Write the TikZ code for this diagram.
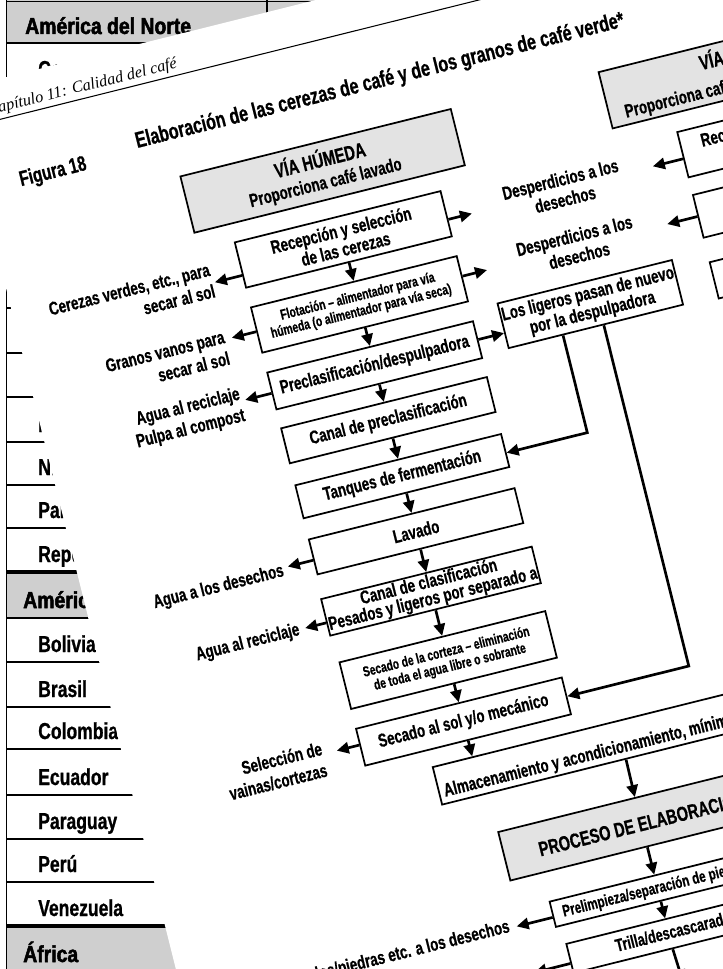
\documentclass[tikz,border=0pt]{standalone}
\usepackage{fontspec}
\setmainfont{Liberation Sans}[FakeStretch=0.72,BoldFeatures={FakeBold=0.7}]
\newfontfamily\tabfont{Liberation Sans}[FakeStretch=0.76,BoldFeatures={FakeBold=0.9}]
\newfontfamily\tabhead{Liberation Sans}[FakeStretch=0.84,BoldFeatures={FakeBold=2.2}]
\newfontfamily\capfont{Liberation Serif}
\usetikzlibrary{arrows.meta}
\newcommand\bigtxt{\fontsize{15.3}{17}\selectfont}
\begin{document}
\begin{tikzpicture}[x=0.75pt,y=-0.75pt,
 box/.style={draw,line width=1.3pt,fill=white,align=center,inner sep=1pt,font=\fontsize{14}{14.5}\selectfont\bfseries},
 gbox/.style={box,fill=gray!22},
 wbox/.style={box,minimum width=159pt},
 smalltxt/.style={font=\fontsize{10.8}{11.5}\selectfont\bfseries},
 plain/.style={inner sep=0pt,align=center,font=\fontsize{14}{14.5}\selectfont\bfseries},
 arr/.style={line width=2pt,-{Triangle[length=9pt,width=8.5pt]}},
 lab/.style={align=right,anchor=east,inner sep=0pt,font=\fontsize{14}{16.5}\selectfont\bfseries},
 clab/.style={align=center,inner sep=0pt,font=\fontsize{14}{15.5}\selectfont\bfseries},
 rowline/.style={line width=1pt},
 thickrow/.style={line width=2.4pt},
 tabtxt/.style={anchor=base west,inner sep=0pt,font=\tabfont\fontsize{17.3}{20}\selectfont\bfseries},
 tabhd/.style={anchor=base west,inner sep=0pt,font=\tabhead\fontsize{17.3}{20}\selectfont\bfseries},
]
\useasboundingbox (0,0) rectangle (723,969);
\clip (0,0) rectangle (723,969);
% ---------- underlying table page ----------
\fill[gray!38] (6,-5) rectangle (400,43);
\fill[gray!38] (6,572) rectangle (400,618);
\fill[gray!38] (6,926) rectangle (400,975);
\draw[rowline] (6.5,-5) -- (6.5,975);
\draw[rowline] (267,-5) -- (267,43);
\draw[rowline] (6,1.5) -- (400,1.5);
\foreach \yy in {43,87,131,175,219,263,308,353,397,442,485,528,618,662,707,749,795,839,882}
  \draw[rowline] (6,\yy) -- (400,\yy);
\draw[thickrow] (6,572) -- (400,572);
\draw[thickrow] (6,926) -- (400,926);
\node[tabhd] (hN) at (25,34) {América del Norte};
\node[tabtxt] (c1) at (38,77) {Costa Rica};
\node[tabtxt] (c2) at (38,121) {Cuba};
\node[tabtxt] (c3) at (38,165) {El Salvador};
\node[tabtxt] (c4) at (38,209) {Estados Unidos};
\node[tabtxt] (c5) at (38,253) {Guatemala};
\node[tabtxt] (c6) at (38,298) {Haití};
\node[tabtxt] (c7) at (38,343) {Honduras};
\node[tabtxt] (c8) at (38,387) {Jamaica};
\node[tabtxt] (c9) at (38,432) {México};
\node[tabtxt] (c10) at (38,475) {Nicaragua};
\node[tabtxt] (c11) at (38,518) {Panamá};
\node[tabtxt] (c12) at (38,562) {República Dominicana};
\node[tabhd] (hS) at (23,608) {América del Sur};
\node[tabtxt] (s1) at (38,652) {Bolivia};
\node[tabtxt] (s2) at (38,697) {Brasil};
\node[tabtxt] (s3) at (38,739) {Colombia};
\node[tabtxt] (s4) at (38,785) {Ecuador};
\node[tabtxt] (s5) at (38,829) {Paraguay};
\node[tabtxt] (s6) at (38,872) {Perú};
\node[tabtxt] (s7) at (38,916) {Venezuela};
\node[tabhd] (hA) at (23,962) {África};
% ---------- rotated diagram page ----------
\begin{scope}[rotate around={14:(360,480)}, transform shape]
\fill[white] (63,3.6) rectangle (1400,1400);
\draw[line width=0.8pt] (63,43) -- (1400,43);
\node[anchor=base east,inner sep=0pt,font=\capfont\itshape\fontsize{12.2}{14}\selectfont] (cap) at (283,36) {Capítulo 11: Calidad del café};
\node[anchor=base east,inner sep=0pt,font=\fontsize{16}{18}\selectfont\bfseries] (fig) at (171,113) {Figura 18};
\node[anchor=base west,inner sep=0pt,font=\fontsize{16.8}{19}\selectfont\bfseries] (title) at (224,104) {Elaboración de las cerezas de café y de los granos de café verde*};
% wet column
\node[gbox,minimum width=209pt,minimum height=43.5pt] (hum) at (398.5,171) {{\bigtxt VÍA HÚMEDA}\\[2pt]Proporciona café lavado};
\node[wbox,minimum height=35pt] (rec) at (402,242.5) {Recepción y selección\\de las cerezas};
\node[wbox,minimum height=35pt,smalltxt] (flot) at (402,309.5) {Flotación – alimentador para vía\\húmeda (o alimentador para vía seca)};
\node[wbox,minimum height=28.5pt] (prec) at (402,372.3) {Preclasificación/despulpadora};
\node[wbox,minimum height=27pt] (cpre) at (402,428.8) {Canal de preclasificación};
\node[wbox,minimum height=25.5pt] (tanq) at (402,486.5) {Tanques de fermentación};
\node[wbox,minimum height=27pt] (lav) at (402,543.3) {Lavado};
\node[wbox,minimum height=27.75pt,font=\fontsize{14}{13}\selectfont\bfseries] (clas) at (402,605) {Canal de clasificación\\Pesados y ligeros por separado a};
\node[wbox,minimum height=36pt,smalltxt] (cort) at (402,676) {Secado de la corteza – eliminación\\de toda el agua libre o sobrante};
\node[wbox,minimum height=28.5pt] (sol) at (402,739.4) {Secado al sol y/o mecánico};
\node[box,minimum width=284pt,minimum height=29pt] (alm) at (550.5,795.5) {};
\node[anchor=base west,inner sep=0pt,font=\fontsize{14}{14.5}\selectfont\bfseries] (almt) at (366,808) {Almacenamiento y acondicionamiento, mínimo};
\node[gbox,minimum width=211.5pt,minimum height=37.5pt,font=\fontsize{15.3}{17}\selectfont\bfseries] (proc) at (550,880) {PROCESO DE ELABORACIÓN};
\node[box,minimum width=162pt,minimum height=19.5pt] (prel) at (550,948) {};
\node[anchor=base west,inner sep=0pt,font=\fontsize{12.2}{13}\selectfont\bfseries] (prelt) at (452,953) {Prelimpieza/separación de piedras};
\node[box,minimum width=153pt,minimum height=22.5pt] (tri) at (550,995) {};
\node[anchor=base west,inner sep=0pt,font=\fontsize{13.3}{14}\selectfont\bfseries] (trit) at (495,1000) {Trilla/descascarado};
% dry column
\node[gbox,minimum width=209pt,minimum height=43.5pt] (seca) at (829.5,171) {};
\node[plain,anchor=base west,font=\bigtxt\bfseries] (secat1) at (790,165) {VÍA SECA};
\node[plain,anchor=base west] (secat2) at (706,193) {Proporciona café natural};
\node[wbox,minimum height=35pt] (drec) at (858,242.5) {};
\node[plain] (drect) at (845,242.5) {Recepción y selección\\de las cerezas};
\node[wbox,minimum height=33pt] (d2) at (858,306) {};
\node[wbox,minimum height=28pt] (d3) at (858,372) {};
\node[box,minimum width=130.5pt,minimum height=34.5pt] (lig) at (626,365) {Los ligeros pasan de nuevo\\por la despulpadora};
% labels
\node[lab] (labA) at (265,250) {Cerezas verdes, etc., para\\secar al sol};
\node[lab] (labB) at (263,319) {Granos vanos para\\secar al sol};
\node[lab] (labC) at (264,379) {Agua al reciclaje\\Pulpa al compost};
\node[lab] (labD) at (264,550) {Agua a los desechos};
\node[lab] (labE) at (265,611) {Agua al reciclaje};
\node[lab] (labF) at (258,742) {Selección de\\vainas/cortezas};
\node[lab] (labG) at (397,950) {Palos/piedras etc. a los desechos};
\node[clab] (labH) at (627,247) {Desperdicios a los\\desechos};
\node[clab] (labI) at (627,305) {Desperdicios a los\\desechos};
% arrow end points
\coordinate (tA) at (267,253);
\coordinate (tB) at (270,311);
\coordinate (tC) at (268,374.5);
\coordinate (tD) at (269,546.5);
\coordinate (tE) at (271,610.4);
\coordinate (tF) at (272,737);
\coordinate (tG) at (404,951);
\coordinate (tH) at (410,1000);
\coordinate (tI) at (533,248.5);
\coordinate (tJ) at (534,307);
\coordinate (tK) at (720,246.5);
\coordinate (tL) at (720,306);
\coordinate (cL1) at (592,489);
\coordinate (cL2) at (634,740);
\coordinate (tEnd) at (552,1045);
% side arrows
\draw[arr] (rec.west |- tA) -- (tA);
\draw[arr] (flot.west |- tB) -- (tB);
\draw[arr] (prec.west |- tC) -- (tC);
\draw[arr] (lav.west |- tD) -- (tD);
\draw[arr] (clas.west |- tE) -- (tE);
\draw[arr] (sol.west |- tF) -- (tF);
\draw[arr] (prel.west |- tG) -- (tG);
\draw[arr] (tri.west |- tH) -- (tH);
\draw[arr] (rec.east |- tI) -- (tI);
\draw[arr] (flot.east |- tJ) -- (tJ);
\draw[arr] (prec.east) -- (lig.west |- prec.east);
\draw[arr] (drec.west |- tK) -- (tK);
\draw[arr] (d2.west |- tL) -- (tL);
\draw[arr] (lig.south -| cL1) -- (cL1) -- (tanq.east |- cL1);
\draw[arr] (lig.south -| cL2) -- (cL2) -- (sol.east |- cL2);
% main flow
\draw[arr] (rec.south) -- (flot.north);
\draw[arr] (flot.south) -- (prec.north);
\draw[arr] (prec.south) -- (cpre.north);
\draw[arr] (cpre.south) -- (tanq.north);
\draw[arr] (tanq.south) -- (lav.north);
\draw[arr] (lav.south) -- (clas.north);
\draw[arr] (clas.south) -- (cort.north);
\draw[arr] (cort.south) -- (sol.north);
\draw[arr] (sol.south) -- (sol.south |- alm.north);
\draw[arr] (alm.south) -- (proc.north);
\draw[arr] (proc.south) -- (prel.north);
\draw[arr] (prel.south) -- (tri.north);
\draw[arr] (tri.south) -- (tEnd);
\end{scope}
\end{tikzpicture}
\end{document}
